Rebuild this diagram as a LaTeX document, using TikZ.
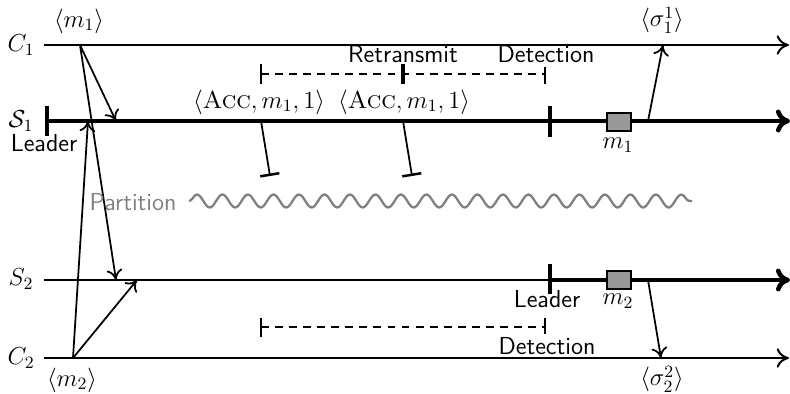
\RequirePackage{fix-cm}
\documentclass[tikz,border=0pt]{standalone}
\usetikzlibrary{arrows.meta,decorations.pathmorphing}
\begin{document}
\begin{tikzpicture}[x=0.02cm,y=-0.02cm,
  every node/.style={font=\fontsize{14}{16}\selectfont, inner sep=0pt},
  lbl/.style={font=\fontsize{14}{16}\selectfont\sffamily},
  timeline/.style={line width=1.15pt,-{To[length=7pt,width=11pt]}},
  thinline/.style={line width=1.15pt},
  thickline/.style={line width=2.6pt,-{To[length=8pt,width=13pt]}},
  tickmark/.style={line width=2.4pt},
  smalltick/.style={line width=1.2pt},
  msg/.style={line width=1pt,-{To[length=6pt,width=9pt]}},
  lost/.style={line width=1pt,-{Bar[width=11pt,line width=1.4pt]}},
  interval/.style={line width=1.1pt,dash pattern=on 4.5pt off 3.5pt},
  mbox/.style={draw=black,line width=0.6pt,fill=black!40,minimum width=0.48cm,minimum height=0.36cm},
  partition/.style={draw=gray,line width=1.3pt,decorate,decoration={snake,segment length=0.51cm,amplitude=0.13cm}}
]
\useasboundingbox (0,0) rectangle (790,393);

% process names
\node (C1l) at (21,45) {$C_1$};
\node (S1l) at (21,121) {$\mathcal{S}_1$};
\node (S2l) at (21,279) {$S_2$};
\node (C2l) at (21,358) {$C_2$};

% timelines
\coordinate (C1s) at (44,45);  \coordinate (C1e) at (789,45);
\coordinate (S1s) at (47,121); \coordinate (S1e) at (790,121);
\coordinate (S2s) at (44,280); \coordinate (S2m) at (550,280); \coordinate (S2e) at (790,280);
\coordinate (C2s) at (44,358); \coordinate (C2e) at (789,358);
\draw[timeline] (C1s) -- (C1e);
\draw[thickline] (S1s) -- (S1e);
\draw[thinline] (S2s) -- (S2m);
\draw[thickline] (S2m) -- (S2e);
\draw[timeline] (C2s) -- (C2e);

% ticks on server lines
\draw[tickmark] (47,106) -- (47,136);
\draw[tickmark] (550,106) -- (550,137);
\draw[tickmark] (550,264) -- (550,294);
\node[lbl] (lead1) at (44,143) {Leader};
\node[lbl] (lead2) at (547,299) {Leader};

% client messages
\coordinate (m1src) at (80,45);
\coordinate (m2src) at (73,358);
\coordinate (S1a) at (116,121);
\coordinate (S2a) at (116,280);
\coordinate (S1b) at (88,121);
\coordinate (S2b) at (137,280);
\node (m1l) at (79,21) {$\langle m_1\rangle$};
\node (m2l) at (72,380) {$\langle m_2\rangle$};
\draw[msg] (m1src) -- (S1a);
\draw[msg] (m1src) -- (S2a);
\draw[msg] (m2src) -- (S1b);
\draw[msg] (m2src) -- (S2b);

% lost accept messages
\coordinate (acc1s) at (261,121); \coordinate (acc1e) at (270,176);
\coordinate (acc2s) at (403,121); \coordinate (acc2e) at (412,176);
\draw[lost] (acc1s) -- (acc1e);
\draw[lost] (acc2s) -- (acc2e);
\node (acc1) at (259,102) {$\langle\textsc{Acc}, m_1, 1\rangle$};
\node (acc2) at (404,102) {$\langle\textsc{Acc}, m_1, 1\rangle$};

% timeout intervals
\coordinate (int1s) at (261,74); \coordinate (int1e) at (545,74);
\draw[interval] (int1s) -- (int1e);
\draw[smalltick] (261,64) -- (261,84);
\draw[tickmark] (403,64) -- (403,84);
\draw[smalltick] (545,67) -- (545,84);
\node[lbl] (retr) at (403,54) {Retransmit};
\node[lbl] (det1) at (546,54) {Detection};

\coordinate (int2s) at (261,327); \coordinate (int2e) at (545,327);
\draw[interval] (int2s) -- (int2e);
\draw[smalltick] (261,318) -- (261,337);
\draw[smalltick] (545,318) -- (545,334);
\node[lbl] (det2) at (547,346) {Detection};

% partition
\node[lbl,text=gray] (part) at (133,202) {Partition};
\coordinate (ps) at (189,201); \coordinate (pe) at (692,201);
\draw[partition] (ps) -- (pe);

% decided messages
\node[mbox] (box1) at (619,122) {};
\node[mbox] (box2) at (619,280) {};
\node (m1b) at (618,145) {$m_1$};
\node (m2b) at (618,301) {$m_2$};

\coordinate (sig1s) at (648,121); \coordinate (sig1e) at (663,45);
\coordinate (sig2s) at (648,280); \coordinate (sig2e) at (661,358);
\draw[msg] (sig1s) -- (sig1e);
\draw[msg] (sig2s) -- (sig2e);
\node (sig1) at (662,20) {$\langle\sigma_1^1\rangle$};
\node (sig2) at (662,379) {$\langle\sigma_2^2\rangle$};
\end{tikzpicture}
\end{document}
